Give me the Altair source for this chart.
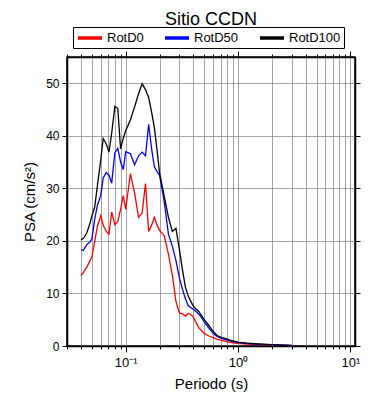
import altair as alt
import pandas as pd

FONT = "Liberation Sans"

periods = [0.040, 0.042, 0.045, 0.048, 0.050, 0.053, 0.056, 0.060, 0.063, 0.067,
           0.071, 0.075, 0.080, 0.085, 0.090, 0.095, 0.100, 0.105, 0.110, 0.120,
           0.130, 0.140, 0.150, 0.160, 0.170, 0.180, 0.190, 0.200, 0.220, 0.240,
           0.260, 0.280, 0.300, 0.320, 0.340, 0.360, 0.380, 0.400, 0.420, 0.450,
           0.480, 0.500, 0.550, 0.600, 0.650, 0.700, 0.800, 0.900, 1.0, 1.2,
           1.5, 2.0, 2.5, 3.0]

rotd0 = [13.4, 14.0, 15.0, 16.2, 17.0, 20.0, 22.8, 24.8, 23.0, 21.8,
         21.3, 25.5, 23.1, 23.7, 26.0, 28.6, 26.0, 29.5, 32.8, 29.1,
         24.5, 25.3, 30.9, 21.8, 23.0, 24.5, 23.0, 22.0, 21.0, 17.5,
         13.5, 8.5, 6.3, 6.1, 5.7, 6.2, 6.0, 5.5, 4.6, 3.4,
         2.8, 2.4, 1.9, 1.6, 1.3, 1.1, 0.8, 0.6, 0.5, 0.35,
         0.25, 0.15, 0.10, 0.07]

rotd50 = [18.3, 18.2, 19.3, 19.8, 20.4, 24.2, 26.8, 28.7, 32.0, 33.0,
          32.5, 31.0, 36.8, 37.6, 35.0, 33.6, 37.0, 36.8, 36.6, 34.5,
          36.2, 36.9, 36.2, 42.2, 37.5, 34.1, 33.2, 32.5, 27.5, 21.3,
          19.0, 16.3, 13.0, 10.8, 9.0, 7.7, 7.3, 7.0, 6.6, 6.0,
          5.2, 4.6, 3.4, 2.4, 1.8, 1.5, 1.1, 0.85, 0.65, 0.5,
          0.35, 0.22, 0.15, 0.10]

rotd100 = [20.2, 20.5, 21.5, 23.3, 24.8, 26.5, 30.6, 35.5, 39.5, 38.5,
           36.9, 40.5, 45.6, 45.2, 37.5, 39.5, 41.0, 42.0, 43.0, 45.5,
           48.0, 49.9, 48.8, 47.3, 44.5, 41.5, 37.3, 33.0, 28.5, 24.5,
           21.8, 22.4, 18.5, 14.5, 11.2, 9.5, 8.5, 7.6, 7.1, 6.5,
           5.6, 5.0, 3.9, 2.8, 2.0, 1.7, 1.3, 0.95, 0.75, 0.55,
           0.4, 0.25, 0.18, 0.12]

series_names = ["RotD0", "RotD50", "RotD100"]
series_colors = ["#ff0000", "#0000ff", "#000000"]

rows = []
for name, vals in zip(series_names, [rotd0, rotd50, rotd100]):
    for p, v in zip(periods, vals):
        rows.append({"period": p, "psa": v, "serie": name})
df = pd.DataFrame(rows)

tick_vals = [round(m * 10 ** e, 4) for e in (-2, -1, 0) for m in range(1, 10)]
tick_vals = [t for t in tick_vals if t >= 0.03] + [10]

major_test = "datum.value == 0.1 || datum.value == 1 || datum.value == 10"
label_expr = ("datum.value == 0.1 ? '10\u207b\u00b9' : datum.value == 1 ? '10\u2070' : "
              "datum.value == 10 ? '10\u00b9' : ''")

xscale = alt.Scale(type="log", domain=[0.03, 11], nice=False)
yscale = alt.Scale(domain=[0, 55], nice=False, zero=True)

base = alt.Chart(df)

lines = base.mark_line(strokeWidth=1.3).encode(
    x=alt.X("period:Q", scale=xscale,
            axis=alt.Axis(orient="bottom", values=tick_vals, labelExpr=label_expr,
                          title="Periodo (s)", grid=True, gridColor="#8c8c8c",
                          gridWidth=0.8,
                          tickSize={"condition": {"test": major_test, "value": 6}, "value": 3},
                          tickColor="black", domainColor="black", domainWidth=1.5,
                          labelFont=FONT, labelFontSize=13, labelColor="black",
                          labelPadding=4, labelFlush=False, labelOverlap=False,
                          titleFont=FONT, titleFontSize=15, titleFontWeight="normal",
                          titleColor="black", titlePadding=7)),
    y=alt.Y("psa:Q", scale=yscale,
            axis=alt.Axis(orient="left", values=[0, 10, 20, 30, 40, 50],
                          title="PSA (cm/s\u00b2)", grid=True, gridColor="#8c8c8c",
                          gridWidth=0.8, tickSize=5, tickColor="black",
                          domainColor="black", domainWidth=1.5,
                          labelFont=FONT, labelFontSize=12, labelColor="black",
                          labelPadding=3,
                          titleFont=FONT, titleFontSize=15, titleFontWeight="normal",
                          titleColor="black", titlePadding=8)),
    color=alt.Color("serie:N",
                    scale=alt.Scale(domain=series_names, range=series_colors),
                    sort=series_names,
                    legend=alt.Legend(orient="none", legendX=6, legendY=-30,
                                      direction="horizontal", title=None,
                                      strokeColor="black", padding=3,
                                      symbolType="M-1,0L3,0", symbolSize=144,
                                      symbolStrokeWidth=3.5, labelFont=FONT,
                                      labelFontSize=13, labelColor="black",
                                      labelOffset=15, columnPadding=14)),
)

frame = base.mark_line(opacity=0).encode(
    x=alt.X("period:Q", scale=xscale,
            axis=alt.Axis(orient="top", values=tick_vals, labels=False, title=None,
                          grid=False,
                          tickSize={"condition": {"test": major_test, "value": 6}, "value": 3},
                          tickColor="black", domainColor="black", domainWidth=1.5)),
    y=alt.Y("psa:Q", scale=yscale,
            axis=alt.Axis(orient="right", values=[0, 10, 20, 30, 40, 50], labels=False,
                          title=None, grid=False, tickSize=5, tickColor="black",
                          domainColor="black", domainWidth=1.5)),
    detail="serie:N",
)

chart = alt.layer(lines, frame).resolve_axis(x="independent", y="independent").properties(
    width=288, height=289,
    title=alt.TitleParams("Sitio CCDN", font=FONT, fontSize=18, fontWeight="normal",
                          color="black", anchor="middle", offset=-2),
    autosize=alt.AutoSizeParams(type="none"),
    padding={"left": 59, "top": 49, "right": 27, "bottom": 52},
).configure_view(stroke="black", strokeWidth=1.5)

chart.save("out.html", embed_options={"renderer": "svg", "actions": False})
